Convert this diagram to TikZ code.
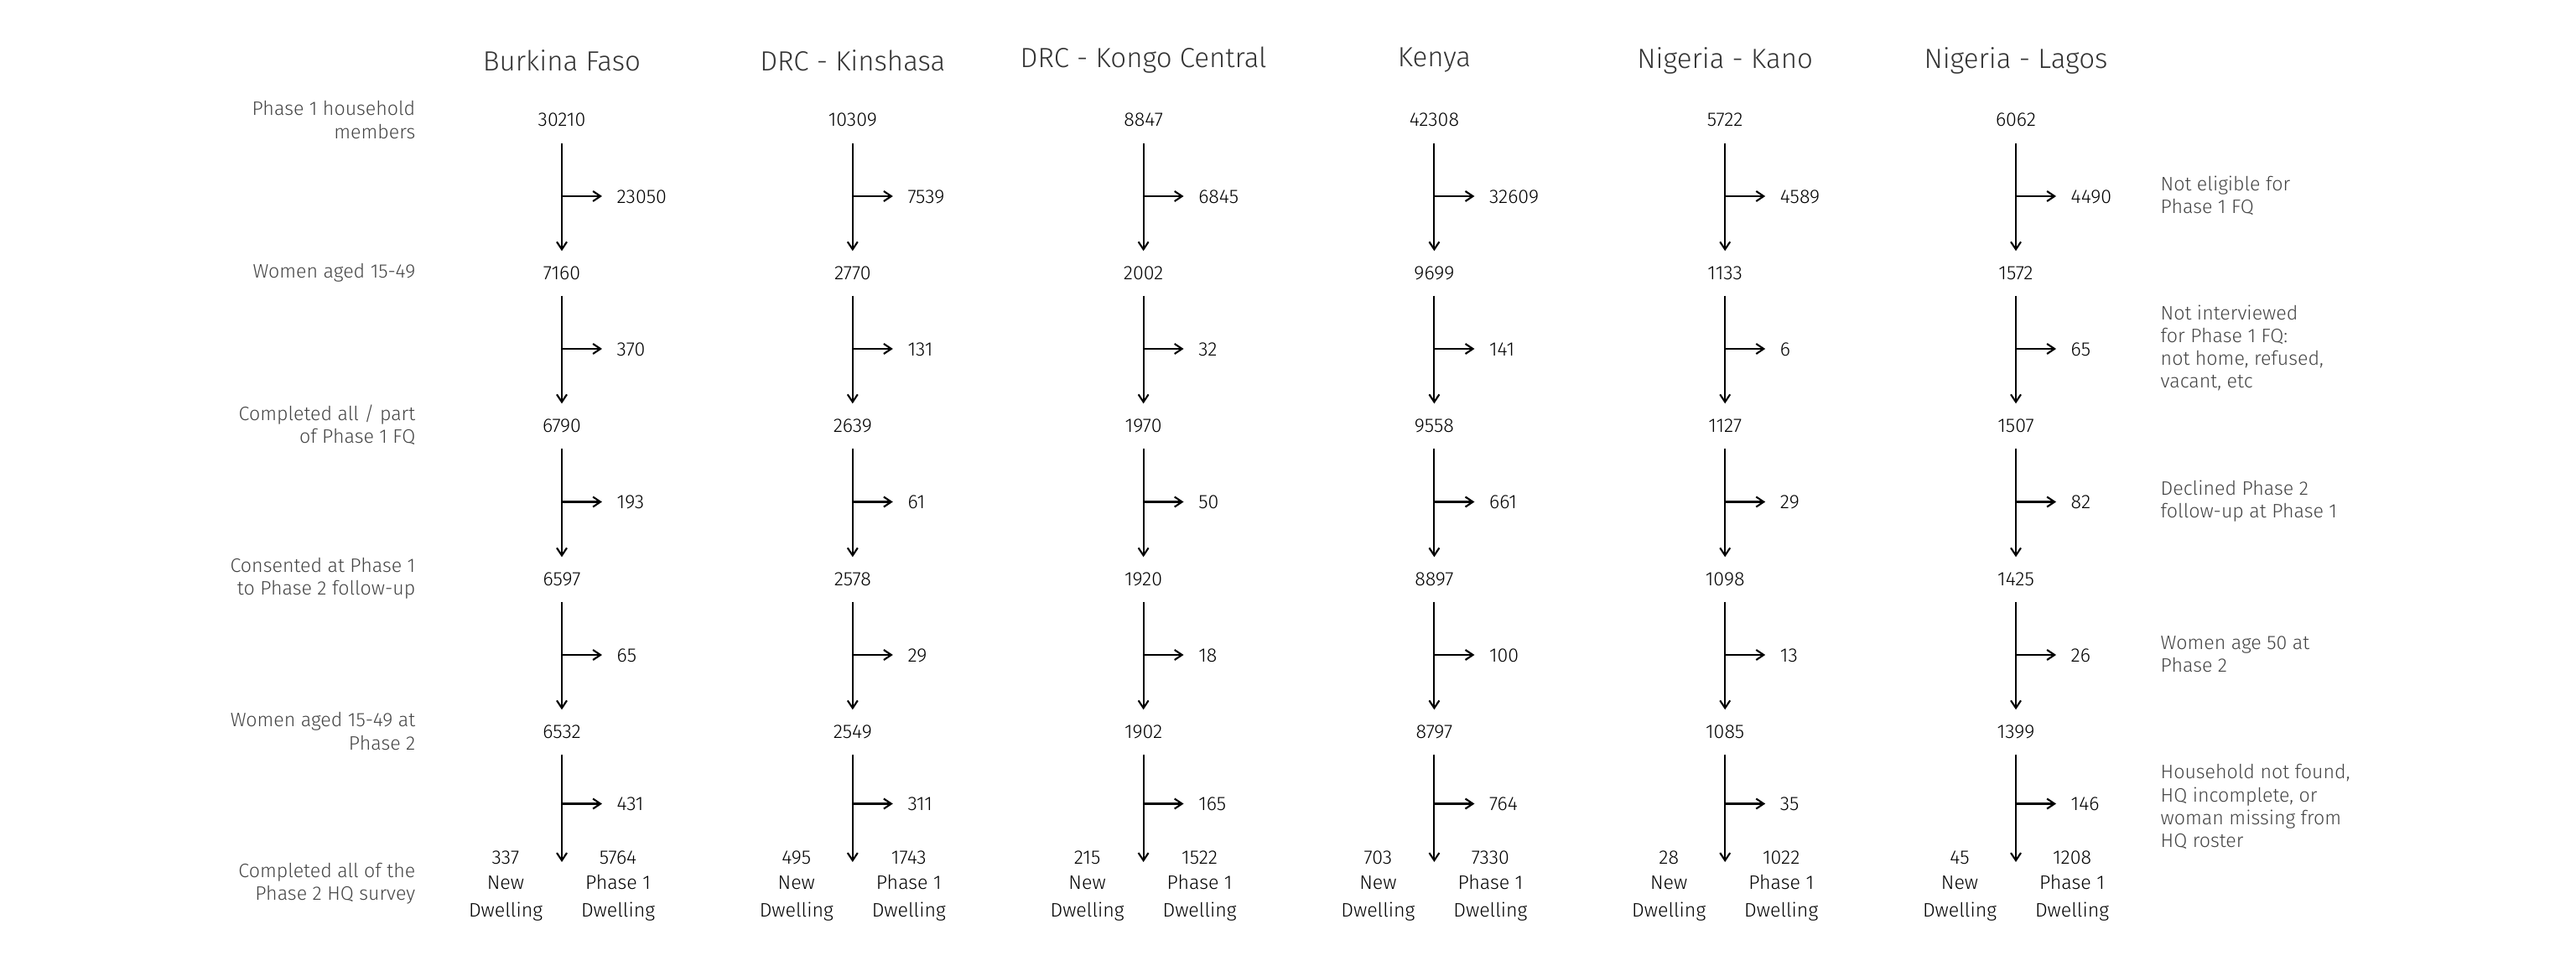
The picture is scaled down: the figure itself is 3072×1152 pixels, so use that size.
\documentclass[tikz,border=0pt]{standalone}
\usepackage{fontspec}
\setmainfont{Fira Sans Light}
\usetikzlibrary{arrows.meta,calc}
\definecolor{lblc}{HTML}{444444}
\definecolor{hdrc}{HTML}{333333}
\begin{document}
\begin{tikzpicture}[x=0.01cm,y=-0.01cm,
  num/.style={inner sep=0pt, text height=0.16cm, text depth=0pt, font=\fontsize{6.6}{7.7}\selectfont, text=black},
  side/.style={num, anchor=west},
  lbl/.style={inner sep=0pt, font=\fontsize{6.6}{7.7}\selectfont, text=lblc, align=right, anchor=east},
  rlbl/.style={inner sep=0pt, font=\fontsize{6.6}{7.7}\selectfont, text=lblc, align=left, anchor=west},
  hdr/.style={inner sep=0pt, font=\fontsize{9.4}{11}\selectfont, text=hdrc},
  dw/.style={inner sep=0pt, font=\fontsize{6.6}{9.4}\selectfont, align=center, text=black},
  arr/.style={line width=0.6pt, -{Straight Barb[length=0.09cm,width=0.12cm]}, shorten >=0.17cm},
  varr/.style={arr, shorten <=0.19cm},
  ]
\useasboundingbox (0,0) rectangle (3072,1152);

% row labels (left)
\node[lbl] (L0) at (496,143) {Phase 1 household\\members};
\node[lbl] (L1) at (496,325) {Women aged 15-49};
\node[lbl] (L2) at (496,507) {Completed all / part\\of Phase 1 FQ};
\node[lbl] (L3) at (496,690) {Consented at Phase 1\\to Phase 2 follow-up};
\node[lbl] (L4) at (496,872) {Women aged 15-49 at\\Phase 2};
\node[lbl] (L5) at (496,1054) {Completed all of the\\Phase 2 HQ survey};

% exclusion labels (right)
\node[rlbl] (R0) at (2576,233) {Not eligible for\\Phase 1 FQ};
\node[rlbl] (R1) at (2576,415) {Not interviewed\\for Phase 1 FQ:\\not home, refused,\\vacant, etc};
\node[rlbl] (R2) at (2576,598) {Declined Phase 2\\follow-up at Phase 1};
\node[rlbl] (R3) at (2576,780) {Women age 50 at\\Phase 2};
\node[rlbl] (R4) at (2576,962) {Household not found,\\HQ incomplete, or\\woman missing from\\HQ roster};

\foreach \k/\hd/\na/\sa/\nb/\sb/\nc/\sc/\nd/\sd/\ne/\se/\nl/\nr in {
  0/Burkina Faso/30210/23050/7160/370/6790/193/6597/65/6532/431/337/5764,
  1/DRC - Kinshasa/10309/7539/2770/131/2639/61/2578/29/2549/311/495/1743,
  2/DRC - Kongo Central/8847/6845/2002/32/1970/50/1920/18/1902/165/215/1522,
  3/Kenya/42308/32609/9699/141/9558/661/8897/100/8797/764/703/7330,
  4/Nigeria - Kano/5722/4589/1133/6/1127/29/1098/13/1085/35/28/1022,
  5/Nigeria - Lagos/6062/4490/1572/65/1507/82/1425/26/1399/146/45/1208}{
  \pgfmathsetmacro\x{670+346.8*\k}
  \node[hdr] (h\k) at (\x,72) {\hd};
  \node[num] (n\k-0) at (\x,143) {\na};
  \node[num] (n\k-1) at (\x,325) {\nb};
  \node[num] (n\k-2) at (\x,507) {\nc};
  \node[num] (n\k-3) at (\x,690) {\nd};
  \node[num] (n\k-4) at (\x,872) {\ne};
  \coordinate (n\k-5) at (\x,1045);
  \foreach \i/\j in {0/1,1/2,2/3,3/4,4/5}{
    \coordinate (m\k-\i) at ($(n\k-\i)!0.5!(n\k-\j)$);
  }
  \node[side] (s\k-0) at ($(m\k-0)+(65,0)$) {\sa};
  \node[side] (s\k-1) at ($(m\k-1)+(65,0)$) {\sb};
  \node[side] (s\k-2) at ($(m\k-2)+(65,0)$) {\sc};
  \node[side] (s\k-3) at ($(m\k-3)+(65,0)$) {\sd};
  \node[side] (s\k-4) at ($(m\k-4)+(65,0)$) {\se};
  \foreach \i/\j in {0/1,1/2,2/3,3/4,4/5}{
    \draw[varr] (n\k-\i) -- (n\k-\j);
    \draw[arr] (m\k-\i) -- (s\k-\i.west);
  }
  \node[num] (bl\k) at (\x-67,1022) {\nl};
  \node[num] (br\k) at (\x+67,1022) {\nr};
  \node[dw] (bld\k) at (\x-67,1071) {New\\Dwelling};
  \node[dw] (brd\k) at (\x+67,1071) {Phase 1\\Dwelling};
}
\end{tikzpicture}
\end{document}
